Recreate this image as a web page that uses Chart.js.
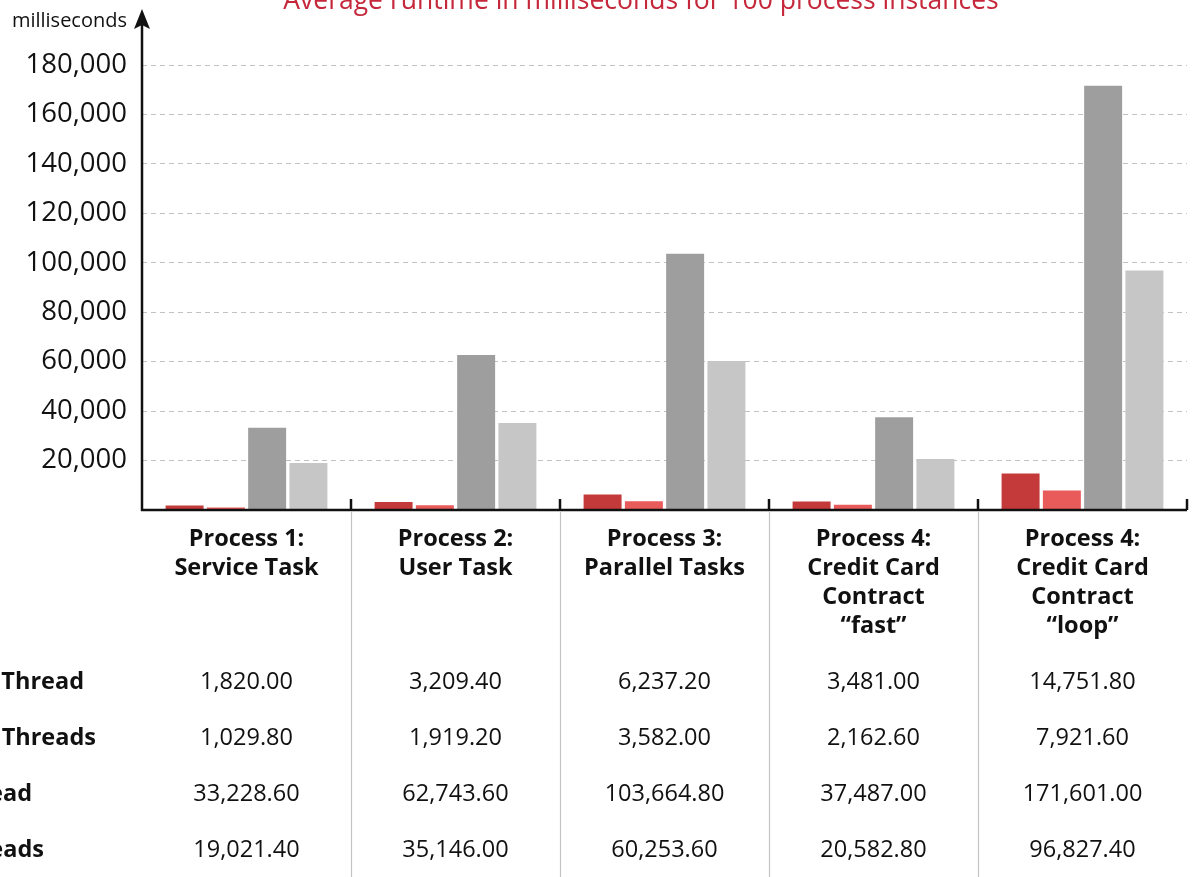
<!DOCTYPE html>
<html>
<head>
<meta charset="utf-8">
<script src="https://cdn.jsdelivr.net/npm/chart.js@4/dist/chart.umd.min.js"></script>
<style>
  html, body { margin: 0; padding: 0; background: #fff; overflow: hidden; }
  #wrap { width: 1194px; height: 877px; position: relative; }
</style>
</head>
<body>
<div id="wrap"><canvas id="chart"></canvas></div>
<script>
// ===============================
// Dados
// ===============================
const chartTitle = "Average runtime in milliseconds for 100 process instances";
const axisLabel = "milliseconds";

const categories = [
  ["Process 1:", "Service Task"],
  ["Process 2:", "User Task"],
  ["Process 3:", "Parallel Tasks"],
  ["Process 4:", "Credit Card", "Contract", "\u201Cfast\u201D"],
  ["Process 4:", "Credit Card", "Contract", "\u201Cloop\u201D"]
];

// row labels are cut off at the left border of the picture
const rowLabels = ["Thread", "Threads", "ead", "eads"];

const series1 = [1820.00, 3209.40, 6237.20, 3481.00, 14751.80];
const series2 = [1029.80, 1919.20, 3582.00, 2162.60, 7921.60];
const series3 = [33228.60, 62743.60, 103664.80, 37487.00, 171601.00];
const series4 = [19021.40, 35146.00, 60253.60, 20582.80, 96827.40];

const seriesColors = ["#c43a3b", "#e95a5b", "#9d9e9d", "#c5c6c5"];
const yTicks = [0, 20000, 40000, 60000, 80000, 100000, 120000, 140000, 160000, 180000];

const FONT = "'Open Sans', 'Noto Sans', sans-serif";

function fmt(v, dec) {
  return v.toLocaleString("en-US", { minimumFractionDigits: dec, maximumFractionDigits: dec });
}

// ===============================
// Eixos, seta, tabela e título
// ===============================
const extrasPlugin = {
  id: "extras",
  afterDraw(chart) {
    const ctx = chart.ctx;
    const area = chart.chartArea;
    const x = chart.scales.x;
    const n = categories.length;
    const catW = (area.right - area.left) / n;
    const H = chart.height;

    ctx.save();

    // table separators
    ctx.strokeStyle = "#c4c4c4";
    ctx.lineWidth = 1.2;
    for (let i = 1; i < n; i++) {
      const bx = Math.round(area.left + i * catW) + 0.5;
      ctx.beginPath();
      ctx.moveTo(bx, area.bottom + 2);
      ctx.lineTo(bx, H);
      ctx.stroke();
    }

    // x axis with category ticks
    ctx.strokeStyle = "#111";
    ctx.lineWidth = 2.5;
    ctx.beginPath();
    ctx.moveTo(area.left - 1, area.bottom);
    ctx.lineTo(area.right, area.bottom);
    ctx.stroke();
    for (let i = 1; i <= n; i++) {
      const bx = Math.round(area.left + i * catW);
      ctx.beginPath();
      ctx.moveTo(bx, area.bottom);
      ctx.lineTo(bx, area.bottom - 11);
      ctx.stroke();
    }

    // y axis with arrow
    ctx.beginPath();
    ctx.moveTo(area.left, area.bottom + 1);
    ctx.lineTo(area.left, 22);
    ctx.stroke();
    ctx.fillStyle = "#111";
    ctx.beginPath();
    ctx.moveTo(area.left, 9);
    ctx.lineTo(area.left - 8, 29);
    ctx.lineTo(area.left, 25);
    ctx.lineTo(area.left + 8, 29);
    ctx.closePath();
    ctx.fill();

    // axis label
    ctx.fillStyle = "#111";
    ctx.font = "20px " + FONT;
    ctx.textAlign = "right";
    ctx.textBaseline = "middle";
    ctx.fillText(axisLabel, area.left - 15, 21);

    // title
    ctx.fillStyle = "#c4283a";
    ctx.font = "26.5px " + FONT;
    ctx.textAlign = "center";
    ctx.textBaseline = "alphabetic";
    ctx.fillText(chartTitle, 641, 9);

    // category labels
    ctx.fillStyle = "#111";
    ctx.font = "bold 23.5px " + FONT;
    ctx.textBaseline = "middle";
    categories.forEach((lines, i) => {
      const cx = x.getPixelForValue(i);
      lines.forEach((t, j) => ctx.fillText(t, cx, 539 + j * 29));
    });

    // table values
    const rows = [series1, series2, series3, series4];
    const rowY = [682, 738, 794, 850];
    ctx.font = "23.5px " + FONT;
    rows.forEach((vals, r) => {
      vals.forEach((v, i) => {
        ctx.fillText(fmt(v, 2), x.getPixelForValue(i), rowY[r]);
      });
    });

    // row labels (clipped on the left)
    ctx.font = "bold 23.5px " + FONT;
    ctx.textAlign = "right";
    const rowEnd = [84, 96, 32, 44];
    rowLabels.forEach((t, r) => ctx.fillText(t, rowEnd[r], rowY[r]));

    ctx.restore();
  }
};

new Chart(document.getElementById("chart"), {
  type: "bar",
  data: {
    labels: categories.map(c => c.join(" ")),
    datasets: [series1, series2, series3, series4].map((d, i) => ({
      data: d,
      backgroundColor: seriesColors[i],
      borderWidth: 0,
      categoryPercentage: 0.79,
      barPercentage: 0.92
    }))
  },
  options: {
    responsive: true,
    maintainAspectRatio: false,
    animation: false,
    layout: { padding: { top: 65, bottom: 367, left: 0, right: 7 } },
    plugins: {
      legend: { display: false },
      tooltip: { enabled: false },
      title: { display: false }
    },
    scales: {
      x: {
        grid: { display: false },
        border: { display: false },
        ticks: { display: false },
        afterFit(scale) { scale.height = 0; }
      },
      y: {
        min: 0,
        max: 180000,
        afterFit(scale) { scale.width = 142; },
        afterBuildTicks(scale) { scale.ticks = yTicks.map(v => ({ value: v })); },
        border: { display: false, dash: [5, 4] },
        grid: { color: "#c2c2c2", lineWidth: 1, drawTicks: false },
        ticks: {
          padding: 15,
          color: "#111",
          font: { family: FONT, size: 27.5 },
          callback: v => (v === 0 ? "" : fmt(v, 0))
        }
      }
    }
  },
  plugins: [extrasPlugin]
});
</script>
</body>
</html>
